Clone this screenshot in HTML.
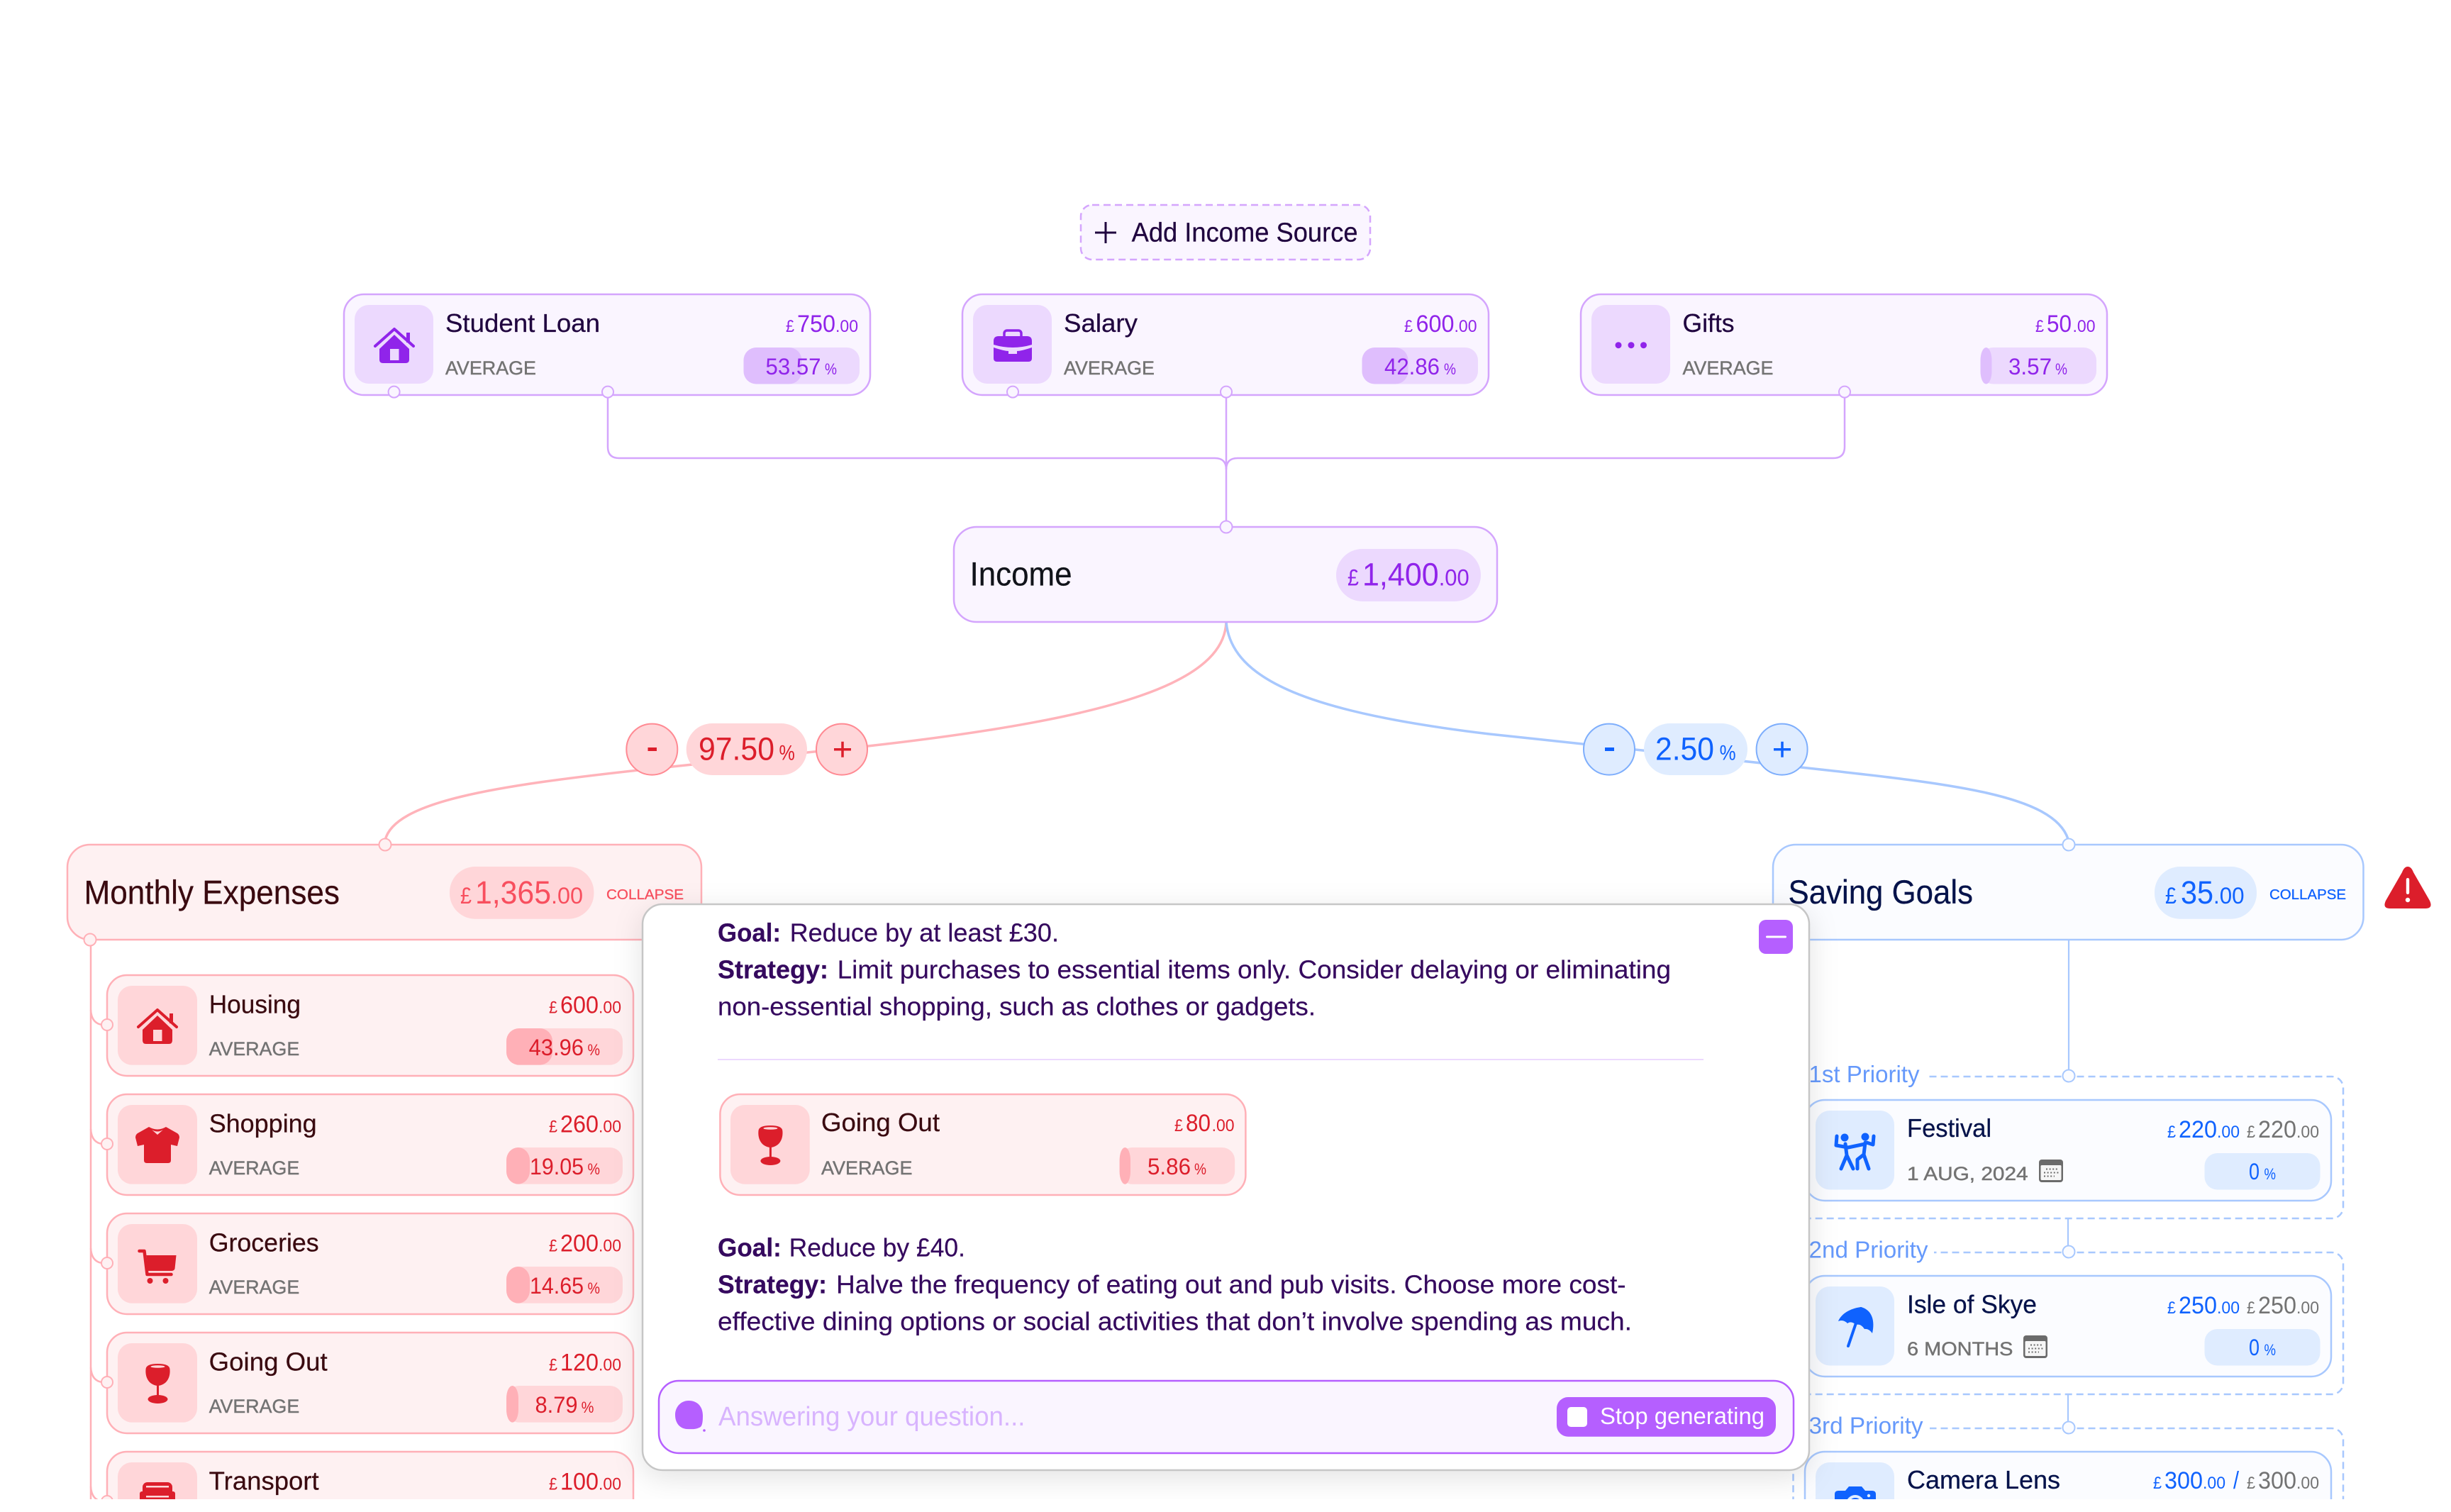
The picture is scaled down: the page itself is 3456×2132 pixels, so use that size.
<!DOCTYPE html>
<html><head><meta charset="utf-8"><title>Budget diagram</title>
<style>
html,body{margin:0;padding:0;background:#fff;width:3456px;height:2132px;overflow:hidden}
svg{display:block;font-family:"Liberation Sans",sans-serif}
.pu{--t:#20053f;--c:#9024ea;--bg:#faf5ff;--br:#d4a5fd;--ib:#ecd9fe;--f:#dfbefd}
.re{--t:#3a0a10;--c:#dc1e2b;--bg:#fef1f2;--br:#ffb0b7;--ib:#ffd6d9;--f:#ffb0b7}
.bl{--t:#04124a;--c:#0f62fe;--bg:#fbfcff;--br:#a8c8fe;--ib:#dfecff;--f:#a8c8fe}
.cb{fill:var(--bg);stroke:var(--br);stroke-width:2.5}
.ib{fill:var(--ib)}.f{fill:var(--f)}
.n{fill:var(--bg);stroke:var(--br);stroke-width:2}
.ic{fill:var(--c)}
.il{stroke:var(--c);fill:none;stroke-linecap:round;stroke-linejoin:round}
.hb{fill:var(--ib)}
.t{font-size:36px;fill:var(--t);stroke:var(--t);stroke-width:.25}
.d{font-size:34px;fill:var(--c)}
.s{font-size:24px;fill:var(--c)}
.p{font-size:32px;fill:var(--c)}
.q{font-size:22px;fill:var(--c)}
.m{font-size:27px;fill:#737373;stroke:#737373;stroke-width:.45}
.g{fill:#737373}
.big{font-size:47px;fill:var(--t);stroke:var(--t);stroke-width:.25}
.col{font-size:20px;stroke-width:.3}
.b1{font-size:36px;fill:#35095e;stroke:#35095e;stroke-width:.2}
.bb{font-weight:bold}
.pri{font-size:33px;fill:#6699fb}
.cbt{fill:var(--ib);stroke:var(--x);stroke-width:2}
.dash{fill:none;stroke:#a8c8fe;stroke-width:2.5;stroke-dasharray:10 6}
</style></head><body>
<svg width="3456" height="2132" viewBox="0 0 3456 2132" xmlns="http://www.w3.org/2000/svg">
<defs>
<filter id="sh" x="-10%" y="-15%" width="120%" height="130%"><feDropShadow dx="0" dy="10" stdDeviation="20" flood-color="#000" flood-opacity="0.11"/></filter>
<g id="house"><path class="il" stroke-width="4" d="M-27 1L0-23L27 1"/><path class="ic" d="M0-15L-21 5V20Q-21 25-16 25H16Q21 25 21 20V5Z"/><rect class="hb" x="-6" y="5" width="12.5" height="16"/><rect class="ic" x="17" y="-18" width="5" height="14"/></g>
<g id="bag"><rect class="il" stroke-width="3.5" x="-12" y="-21" width="24" height="12" rx="4"/><path class="ic" d="M-27-6Q-27-13-20-13H20Q27-13 27-6V-1Q0 7-27-1Z"/><path class="ic" d="M-27 3Q-12 8-6 8V12H6V8Q12 8 27 3V18Q27 23 22 23H-22Q-27 23-27 18Z"/></g>
<g id="shirt"><path class="ic" d="M-12-25Q0-18 12-25L28-16Q31-14 31-10L28 2L19 0V22Q19 26 15 26H-15Q-19 26-19 22V0L-28 2L-31-10Q-31-14-28-16Z"/><path class="hb" d="M-8-21Q0-16 8-21L0-14Z"/></g>
<g id="cart"><path class="il" stroke-width="4.5" d="M-25-21H-18L-14 12H20"/><path class="ic" d="M-15-15H27L25 4Q24 7 20 7H-13Z"/><circle class="ic" cx="-10" cy="21" r="4"/><circle class="ic" cx="12" cy="21" r="4"/></g>
<g id="wine"><path class="ic" d="M-17-20Q-17-28 0-28Q17-28 17-20C18-8 12 2 0 3C-12 2-18-8-17-20Z"/><rect class="ic" x="-1.5" y="2" width="3" height="18"/><ellipse class="ic" cx="0" cy="22" rx="14" ry="6"/><ellipse class="hb" cx="0" cy="-24" rx="10" ry="1.8"/></g>
<g id="dance"><circle class="ic" cx="-15" cy="-19" r="5.5"/><circle class="ic" cx="14" cy="-20" r="5.5"/><path class="il" stroke-width="5" d="M-26-21L-27-8L-10-5L14-10M-14-10L-12 6M-12 6L-20 25M-12 6L-3 25M14-12L12 5L3 12L3 25M12 5L19 25M16-12L25-9L26-21"/></g>
<g id="umb"><path class="ic" d="M8-28C-8-26-20-18-24-8Q-17-11-11-5Q-6-9 1-3Q8-5 13 3Q19 2 24 9C28-8 24-24 8-28Z"/><path class="il" stroke-width="4" d="M8-26L-10 27"/></g>
<g id="cal"><rect x="0" y="0" width="34" height="32" rx="4" fill="#6b6b6b"/><rect x="2.5" y="8" width="29" height="21" rx="1.5" fill="#f6f6f6"/><path d="M10 13.5H28M7 18.5H28M7 23.5H22" stroke="#6b6b6b" stroke-width="2" stroke-dasharray="2 2.6" fill="none"/></g>
</defs>
<rect width="3456" height="2132" fill="#fff"/>

<!-- Income connectors -->
<g fill="none" stroke="#d4a5fd" stroke-width="2.5">
<path d="M857 556V630Q857 646 873 646H1713Q1729 646 1729 662"/>
<path d="M2601 556V630Q2601 646 2585 646H1745Q1729 646 1729 662"/>
<path d="M1729 556V743"/>
</g>
<path d="M1729 877C1726 960 1581 1012 1224 1052L900 1086C700 1108 555 1130 543 1185" fill="none" stroke="#ffb3ba" stroke-width="3.5"/>
<path d="M1729 877C1736 960 1850 1005 2100 1035L2540 1082C2750 1105 2895 1120 2916 1183" fill="none" stroke="#a8c8fe" stroke-width="3.5"/>

<!-- Add income -->
<g class="pu">
<rect x="1524" y="289" width="408" height="77" rx="16" fill="#faf5ff" stroke="#d4a5fd" stroke-width="2.5" stroke-dasharray="10 6"/>
<path d="M1544 328H1574M1559 313V343" stroke="#20053f" stroke-width="3" fill="none"/>
<text x="1595.6" y="340.4" font-size="38" fill="#20053f" stroke="#20053f" stroke-width=".25" textLength="319" lengthAdjust="spacingAndGlyphs">Add Income Source</text>
</g>

<!-- Student Loan -->
<g class="pu" transform="translate(485,415)">
<rect class="cb" width="742" height="142" rx="28"/><rect class="ib" x="15" y="15" width="111" height="111" rx="20"/>
<use href="#house" transform="translate(71,72)"/>
<text class="t" x="143" y="53" textLength="218" lengthAdjust="spacingAndGlyphs">Student Loan</text>
<text class="s" x="623" y="53" textLength="12" lengthAdjust="spacingAndGlyphs">£</text><text class="d" x="639" y="53" textLength="54" lengthAdjust="spacingAndGlyphs">750</text><text class="s" x="693" y="53" textLength="32" lengthAdjust="spacingAndGlyphs">.00</text>
<rect class="ib" x="563.5" y="75" width="163.5" height="51.5" rx="18"/><rect class="f" x="563.5" y="75" width="82" height="51.5" rx="18" ry="18"/>
<text class="m" x="143" y="113" textLength="128" lengthAdjust="spacingAndGlyphs">AVERAGE</text>
<text class="p" x="594.5" y="113" textLength="78" lengthAdjust="spacingAndGlyphs">53.57</text><text class="q" x="678" y="113" textLength="17" lengthAdjust="spacingAndGlyphs">%</text>
<circle class="n" cx="70.6" cy="137.6" r="8"/><circle class="n" cx="372" cy="137.6" r="8"/>
</g>
<!-- Salary -->
<g class="pu" transform="translate(1357,415)">
<rect class="cb" width="742" height="142" rx="28"/><rect class="ib" x="15" y="15" width="111" height="111" rx="20"/>
<use href="#bag" transform="translate(71,72)"/>
<text class="t" x="143" y="53" textLength="104" lengthAdjust="spacingAndGlyphs">Salary</text>
<text class="s" x="623" y="53" textLength="12" lengthAdjust="spacingAndGlyphs">£</text><text class="d" x="639.5" y="53" textLength="54" lengthAdjust="spacingAndGlyphs">600</text><text class="s" x="693.5" y="53" textLength="32" lengthAdjust="spacingAndGlyphs">.00</text>
<rect class="ib" x="563.5" y="75" width="163.5" height="51.5" rx="18"/><rect class="f" x="563.5" y="75" width="65" height="51.5" rx="18" ry="18"/>
<text class="m" x="143" y="113" textLength="128" lengthAdjust="spacingAndGlyphs">AVERAGE</text>
<text class="p" x="595" y="113" textLength="78" lengthAdjust="spacingAndGlyphs">42.86</text><text class="q" x="679" y="113" textLength="17" lengthAdjust="spacingAndGlyphs">%</text>
<circle class="n" cx="71" cy="137.6" r="8"/><circle class="n" cx="372" cy="137.6" r="8"/>
</g>
<!-- Gifts -->
<g class="pu" transform="translate(2229,415)">
<rect class="cb" width="742" height="142" rx="28"/><rect class="ib" x="15" y="15" width="111" height="111" rx="20"/>
<circle class="ic" cx="53" cy="71.7" r="4.5"/><circle class="ic" cx="71" cy="71.7" r="4.5"/><circle class="ic" cx="88.5" cy="71.7" r="4.5"/>
<text class="t" x="143.5" y="53" textLength="73" lengthAdjust="spacingAndGlyphs">Gifts</text>
<text class="s" x="641" y="53" textLength="12" lengthAdjust="spacingAndGlyphs">£</text><text class="d" x="657" y="53" textLength="35" lengthAdjust="spacingAndGlyphs">50</text><text class="s" x="693.5" y="53" textLength="32" lengthAdjust="spacingAndGlyphs">.00</text>
<rect class="ib" x="563.5" y="75" width="163.5" height="51.5" rx="18"/><rect class="f" x="563.5" y="75" width="16" height="51.5" rx="18" ry="18"/>
<text class="m" x="143.5" y="113" textLength="128" lengthAdjust="spacingAndGlyphs">AVERAGE</text>
<text class="p" x="603" y="113" textLength="61" lengthAdjust="spacingAndGlyphs">3.57</text><text class="q" x="669" y="113" textLength="17" lengthAdjust="spacingAndGlyphs">%</text>
<circle class="n" cx="372" cy="137.6" r="8"/>
</g>

<!-- Income -->
<g class="pu">
<rect class="cb" x="1345" y="743" width="766" height="134" rx="32"/>
<circle class="n" cx="1729" cy="743" r="8.5"/>
<text x="1367.5" y="825.5" font-size="47" fill="#11131a" stroke="#11131a" stroke-width=".25" textLength="144" lengthAdjust="spacingAndGlyphs">Income</text>
<rect class="ib" x="1884" y="774" width="204" height="74" rx="37"/>
<text x="1900" y="825.5" font-size="32" fill="#9024ea" textLength="16" lengthAdjust="spacingAndGlyphs">£</text>
<text x="1921" y="825.5" font-size="45" fill="#9024ea" textLength="107.7" lengthAdjust="spacingAndGlyphs">1,400</text>
<text x="2028.7" y="825.5" font-size="32" fill="#9024ea" textLength="43" lengthAdjust="spacingAndGlyphs">.00</text>
</g>

<!-- Red controls -->
<g class="re" style="--x:#ff8a93">
<circle class="cbt" cx="919.3" cy="1056.6" r="36"/><rect x="913.5" y="1054" width="12.5" height="5" fill="#dc1e2b"/>
<rect x="967.7" y="1020" width="170.3" height="73" rx="36.5" fill="#ffd6d9"/>
<text x="985" y="1071.7" font-size="45" fill="#dc1e2b" textLength="107" lengthAdjust="spacingAndGlyphs">97.50</text>
<text x="1098.5" y="1071.7" font-size="30" fill="#dc1e2b" textLength="22.3" lengthAdjust="spacingAndGlyphs">%</text>
<circle class="cbt" cx="1187" cy="1056.6" r="36"/><path d="M1176 1056.7H1200M1188 1045.7V1067.7" stroke="#dc1e2b" stroke-width="3.5" fill="none"/>
</g>
<!-- Blue controls -->
<g class="bl" style="--x:#7eaefc">
<circle class="cbt" cx="2269" cy="1056.6" r="36"/><rect x="2263" y="1054" width="13" height="5" fill="#0f62fe"/>
<rect x="2318" y="1020" width="146" height="73" rx="36.5" fill="#dfecff"/>
<text x="2334" y="1071.7" font-size="45" fill="#0f62fe" textLength="83" lengthAdjust="spacingAndGlyphs">2.50</text>
<text x="2424.6" y="1071.7" font-size="30" fill="#0f62fe" textLength="23" lengthAdjust="spacingAndGlyphs">%</text>
<circle class="cbt" cx="2512.6" cy="1056.6" r="36"/><path d="M2501 1056.7H2525M2513 1045.7V1067.7" stroke="#0f62fe" stroke-width="3.5" fill="none"/>
</g>

<!-- Monthly Expenses -->
<g class="re">
<path d="M128 1325V2114" stroke="#ffb0b7" stroke-width="2.5" fill="none"/>
<path d="M128 1424Q129 1443 144 1445M128 1592Q129 1611 144 1613M128 1760Q129 1779 144 1781M128 1928Q129 1947 144 1949M128 2096Q129 2115 144 2117" stroke="#ffb0b7" stroke-width="2.5" fill="none"/>
<rect class="cb" x="95" y="1191" width="894" height="134" rx="32"/>
<circle class="n" cx="543" cy="1191" r="8.5"/><circle class="n" cx="127" cy="1325" r="8.5"/>
<text class="big" x="118.5" y="1274.5" textLength="360.5" lengthAdjust="spacingAndGlyphs">Monthly Expenses</text>
<rect class="ib" x="634" y="1222" width="203.4" height="73.7" rx="36"/>
<text x="649" y="1274" font-size="32" fill="#f84f5e" textLength="16" lengthAdjust="spacingAndGlyphs">£</text>
<text x="670" y="1274" font-size="45" fill="#f84f5e" textLength="107" lengthAdjust="spacingAndGlyphs">1,365</text>
<text x="777" y="1274" font-size="32" fill="#f84f5e" textLength="45" lengthAdjust="spacingAndGlyphs">.00</text>
<text class="col" x="855" y="1268" fill="#f84f5e" stroke="#f84f5e" textLength="109" lengthAdjust="spacingAndGlyphs">COLLAPSE</text>
</g>

<g class="re" transform="translate(151,1375)">
<rect class="cb" width="742" height="142" rx="28"/><rect class="ib" x="15" y="15" width="112" height="111.6" rx="20"/>
<use href="#house" transform="translate(71,72)"/>
<text class="t" x="143.7" y="53.5" textLength="129.3" lengthAdjust="spacingAndGlyphs">Housing</text>
<text class="s" x="623" y="53.5" textLength="12" lengthAdjust="spacingAndGlyphs">£</text><text class="d" x="639" y="53.5" textLength="54" lengthAdjust="spacingAndGlyphs">600</text><text class="s" x="693" y="53.5" textLength="32" lengthAdjust="spacingAndGlyphs">.00</text>
<rect class="ib" x="563" y="75" width="164" height="51.6" rx="18"/><rect class="f" x="563" y="75" width="65" height="51.6" rx="18" ry="18"/>
<text class="m" x="143.7" y="113" textLength="127.5" lengthAdjust="spacingAndGlyphs">AVERAGE</text>
<text class="p" x="594.6" y="113" textLength="77.4" lengthAdjust="spacingAndGlyphs">43.96</text><text class="q" x="677.5" y="113" textLength="17.5" lengthAdjust="spacingAndGlyphs">%</text>
<circle class="n" cx="0" cy="70" r="8"/>
</g>
<g class="re" transform="translate(151,1543)">
<rect class="cb" width="742" height="142" rx="28"/><rect class="ib" x="15" y="15" width="112" height="111.6" rx="20"/>
<use href="#shirt" transform="translate(71,71)"/>
<text class="t" x="143.7" y="53.5" textLength="152" lengthAdjust="spacingAndGlyphs">Shopping</text>
<text class="s" x="623" y="53.5" textLength="12" lengthAdjust="spacingAndGlyphs">£</text><text class="d" x="639" y="53.5" textLength="54" lengthAdjust="spacingAndGlyphs">260</text><text class="s" x="693" y="53.5" textLength="32" lengthAdjust="spacingAndGlyphs">.00</text>
<rect class="ib" x="563" y="75" width="164" height="51.6" rx="18"/><rect class="f" x="563" y="75" width="33" height="51.6" rx="18" ry="18"/>
<text class="m" x="143.7" y="113" textLength="127.5" lengthAdjust="spacingAndGlyphs">AVERAGE</text>
<text class="p" x="596" y="113" textLength="76" lengthAdjust="spacingAndGlyphs">19.05</text><text class="q" x="677.5" y="113" textLength="17.5" lengthAdjust="spacingAndGlyphs">%</text>
<circle class="n" cx="0" cy="70" r="8"/>
</g>
<g class="re" transform="translate(151,1711)">
<rect class="cb" width="742" height="142" rx="28"/><rect class="ib" x="15" y="15" width="112" height="111.6" rx="20"/>
<use href="#cart" transform="translate(70.5,74)"/>
<text class="t" x="143.7" y="53.5" textLength="155" lengthAdjust="spacingAndGlyphs">Groceries</text>
<text class="s" x="623" y="53.5" textLength="12" lengthAdjust="spacingAndGlyphs">£</text><text class="d" x="639" y="53.5" textLength="54" lengthAdjust="spacingAndGlyphs">200</text><text class="s" x="693" y="53.5" textLength="32" lengthAdjust="spacingAndGlyphs">.00</text>
<rect class="ib" x="563" y="75" width="164" height="51.6" rx="18"/><rect class="f" x="563" y="75" width="33" height="51.6" rx="18" ry="18"/>
<text class="m" x="143.7" y="113" textLength="127.5" lengthAdjust="spacingAndGlyphs">AVERAGE</text>
<text class="p" x="596" y="113" textLength="76" lengthAdjust="spacingAndGlyphs">14.65</text><text class="q" x="677.5" y="113" textLength="17.5" lengthAdjust="spacingAndGlyphs">%</text>
<circle class="n" cx="0" cy="70" r="8"/>
</g>
<g class="re" transform="translate(151,1879)">
<rect class="cb" width="742" height="142" rx="28"/><rect class="ib" x="15" y="15" width="112" height="111.6" rx="20"/>
<use href="#wine" transform="translate(71.5,72)"/>
<text class="t" x="143.7" y="53.5" textLength="167" lengthAdjust="spacingAndGlyphs">Going Out</text>
<text class="s" x="623" y="53.5" textLength="12" lengthAdjust="spacingAndGlyphs">£</text><text class="d" x="639" y="53.5" textLength="54" lengthAdjust="spacingAndGlyphs">120</text><text class="s" x="693" y="53.5" textLength="32" lengthAdjust="spacingAndGlyphs">.00</text>
<rect class="ib" x="563" y="75" width="164" height="51.6" rx="18"/><rect class="f" x="563" y="75" width="17" height="51.6" rx="18" ry="18"/>
<text class="m" x="143.7" y="113" textLength="127.5" lengthAdjust="spacingAndGlyphs">AVERAGE</text>
<text class="p" x="603.5" y="113" textLength="60" lengthAdjust="spacingAndGlyphs">8.79</text><text class="q" x="668.6" y="113" textLength="17.8" lengthAdjust="spacingAndGlyphs">%</text>
<circle class="n" cx="0" cy="70" r="8"/>
</g>
<g class="re" transform="translate(151,2047)">
<rect class="cb" width="742" height="142" rx="28"/><rect class="ib" x="15" y="15" width="112" height="111.6" rx="20"/>
<rect x="50" y="43" width="42" height="50" rx="7" fill="#dc1e2b"/><rect x="46" y="56" width="50" height="30" rx="3" fill="#dc1e2b"/><rect x="55" y="48" width="32" height="2.5" fill="#ffd6d9"/><rect x="55" y="62" width="32" height="2.5" fill="#ffd6d9"/>
<text class="t" x="143.7" y="53.5" textLength="155" lengthAdjust="spacingAndGlyphs">Transport</text>
<text class="s" x="623" y="53.5" textLength="12" lengthAdjust="spacingAndGlyphs">£</text><text class="d" x="639" y="53.5" textLength="54" lengthAdjust="spacingAndGlyphs">100</text><text class="s" x="693" y="53.5" textLength="32" lengthAdjust="spacingAndGlyphs">.00</text>
<circle class="n" cx="0" cy="70" r="8"/>
</g>

<!-- Saving Goals -->
<g class="bl">
<g fill="none" stroke="#a8c8fe" stroke-width="2.2"><path d="M2917 1325V1517"/><path d="M2916 1718V1766"/><path d="M2916 1966V2013"/></g>
<rect class="cb" x="2500" y="1191" width="832.5" height="134" rx="32"/>
<circle class="n" cx="2917" cy="1191" r="8.5"/>
<text class="big" x="2521.5" y="1274" textLength="260.5" lengthAdjust="spacingAndGlyphs">Saving Goals</text>
<rect class="ib" x="3038" y="1222" width="144" height="73.7" rx="36"/>
<text x="3053" y="1274" font-size="32" fill="#0f62fe" textLength="16" lengthAdjust="spacingAndGlyphs">£</text>
<text x="3075" y="1274" font-size="45" fill="#0f62fe" textLength="46" lengthAdjust="spacingAndGlyphs">35</text>
<text x="3121" y="1274" font-size="32" fill="#0f62fe" textLength="43.5" lengthAdjust="spacingAndGlyphs">.00</text>
<text class="col" x="3200" y="1268" fill="#0f62fe" stroke="#0f62fe" textLength="108" lengthAdjust="spacingAndGlyphs">COLLAPSE</text>

<path d="M3395 1222Q3400 1222 3403 1230L3426 1270Q3431 1281 3420 1281H3370Q3359 1281 3364 1270L3387 1230Q3390 1222 3395 1222Z" fill="#dc1e2b"/>
<rect x="3392.8" y="1238" width="4.4" height="23" rx="2.2" fill="#fff"/><circle cx="3395" cy="1269" r="3.2" fill="#fff"/>

<rect class="dash" x="2528.5" y="1518" width="775.5" height="200" rx="16"/>
<rect x="2520" y="1500" width="197" height="36" fill="#fff"/>
<text class="pri" x="2550.5" y="1526" textLength="156" lengthAdjust="spacingAndGlyphs">1st Priority</text>
<circle class="n" cx="2917" cy="1517" r="8.5"/>

<rect class="dash" x="2528.5" y="1766" width="775.5" height="200" rx="16"/>
<rect x="2520" y="1748" width="207" height="36" fill="#fff"/>
<text class="pri" x="2550.5" y="1773.5" textLength="168" lengthAdjust="spacingAndGlyphs">2nd Priority</text>
<circle class="n" cx="2917" cy="1765" r="8.5"/>

<rect class="dash" x="2528.5" y="2014" width="775.5" height="200" rx="16"/>
<rect x="2520" y="1996" width="201" height="36" fill="#fff"/>
<text class="pri" x="2550.5" y="2021.5" textLength="161" lengthAdjust="spacingAndGlyphs">3rd Priority</text>
<circle class="n" cx="2917" cy="2013" r="8.5"/>
</g>

<g class="bl" transform="translate(2545,1551)">
<rect class="cb" width="742" height="142" rx="28"/><rect class="ib" x="15" y="15" width="111" height="111.5" rx="20"/>
<use href="#dance" transform="translate(71,72)"/>
<text class="t" x="144" y="52" textLength="119" lengthAdjust="spacingAndGlyphs">Festival</text>
<text class="s" x="511" y="53" textLength="12" lengthAdjust="spacingAndGlyphs">£</text><text class="d" x="527" y="53" textLength="54" lengthAdjust="spacingAndGlyphs">220</text><text class="s" x="581" y="53" textLength="32" lengthAdjust="spacingAndGlyphs">.00</text>
<text class="s g" x="623" y="53" textLength="12" lengthAdjust="spacingAndGlyphs">£</text><text class="d g" x="639" y="53" textLength="54" lengthAdjust="spacingAndGlyphs">220</text><text class="s g" x="693" y="53" textLength="32" lengthAdjust="spacingAndGlyphs">.00</text>
<rect class="ib" x="563.5" y="75" width="163" height="51.5" rx="18"/>
<text class="m" x="144" y="113" textLength="170.6" lengthAdjust="spacingAndGlyphs">1 AUG, 2024</text>
<use href="#cal" transform="translate(330,84)"/>
<text class="p" x="626" y="112" textLength="15" lengthAdjust="spacingAndGlyphs">0</text><text class="q" x="647.5" y="112" textLength="16.5" lengthAdjust="spacingAndGlyphs">%</text>
</g>
<g class="bl" transform="translate(2545,1799)">
<rect class="cb" width="742" height="142" rx="28"/><rect class="ib" x="15" y="15" width="111" height="111.5" rx="20"/>
<use href="#umb" transform="translate(71,72)"/>
<text class="t" x="144" y="52.7" textLength="183" lengthAdjust="spacingAndGlyphs">Isle of Skye</text>
<text class="s" x="511" y="53" textLength="12" lengthAdjust="spacingAndGlyphs">£</text><text class="d" x="527" y="53" textLength="54" lengthAdjust="spacingAndGlyphs">250</text><text class="s" x="581" y="53" textLength="32" lengthAdjust="spacingAndGlyphs">.00</text>
<text class="s g" x="623" y="53" textLength="12" lengthAdjust="spacingAndGlyphs">£</text><text class="d g" x="639" y="53" textLength="54" lengthAdjust="spacingAndGlyphs">250</text><text class="s g" x="693" y="53" textLength="32" lengthAdjust="spacingAndGlyphs">.00</text>
<rect class="ib" x="563.5" y="75" width="163" height="51.5" rx="18"/>
<text class="m" x="144" y="112" textLength="149.4" lengthAdjust="spacingAndGlyphs">6 MONTHS</text>
<use href="#cal" transform="translate(308,84)"/>
<text class="p" x="626" y="112" textLength="15" lengthAdjust="spacingAndGlyphs">0</text><text class="q" x="647.5" y="112" textLength="16.5" lengthAdjust="spacingAndGlyphs">%</text>
</g>
<g class="bl" transform="translate(2545,2047)">
<rect class="cb" width="742" height="142" rx="28"/><rect class="ib" x="15" y="15" width="111" height="111.5" rx="20"/>
<path class="ic" d="M42 60Q42 55 47 55H57L62 49H80L85 55H95Q100 55 100 60V90H42Z"/><circle cx="71" cy="74" r="11" fill="none" stroke="#dfecff" stroke-width="4"/><circle cx="90" cy="62" r="2.2" fill="#dfecff"/>
<text class="t" x="144" y="52" textLength="216" lengthAdjust="spacingAndGlyphs">Camera Lens</text>
<text class="s" x="491" y="52" textLength="12" lengthAdjust="spacingAndGlyphs">£</text><text class="d" x="507" y="52" textLength="54" lengthAdjust="spacingAndGlyphs">300</text><text class="s" x="561" y="52" textLength="32" lengthAdjust="spacingAndGlyphs">.00</text>
<text class="d" x="604" y="52" textLength="8" lengthAdjust="spacingAndGlyphs">/</text>
<text class="s g" x="623" y="52" textLength="12" lengthAdjust="spacingAndGlyphs">£</text><text class="d g" x="639" y="52" textLength="54" lengthAdjust="spacingAndGlyphs">300</text><text class="s g" x="693" y="52" textLength="32" lengthAdjust="spacingAndGlyphs">.00</text>
</g>

<!-- Panel -->
<rect x="906" y="1275" width="1645" height="798" rx="28" fill="#fff" stroke="#c6c6c6" stroke-width="2.5" filter="url(#sh)"/>
<rect x="2480" y="1297" width="48" height="48" rx="10" fill="#b55fff"/><rect x="2490" y="1319.5" width="29" height="3" rx="1.5" fill="#fff"/>

<text class="b1 bb" x="1012" y="1327.7" textLength="89" lengthAdjust="spacingAndGlyphs">Goal:</text>
<text class="b1" x="1113.6" y="1327.7" textLength="379.4" lengthAdjust="spacingAndGlyphs">Reduce by at least £30.</text>
<text class="b1 bb" x="1012" y="1379.3" textLength="156" lengthAdjust="spacingAndGlyphs">Strategy:</text>
<text class="b1" x="1180.6" y="1379.3" textLength="1175.4" lengthAdjust="spacingAndGlyphs">Limit purchases to essential items only. Consider delaying or eliminating</text>
<text class="b1" x="1012" y="1431.7" textLength="843" lengthAdjust="spacingAndGlyphs">non-essential shopping, such as clothes or gadgets.</text>
<rect x="1012" y="1493" width="1390" height="2" fill="#ecd9fe"/>

<g class="re" transform="translate(1015.4,1543)">
<rect class="cb" width="741" height="142" rx="28"/><rect class="ib" x="14.6" y="15" width="111.7" height="111.7" rx="20"/>
<use href="#wine" transform="translate(71,72)"/>
<text class="t" x="142.6" y="52" textLength="167" lengthAdjust="spacingAndGlyphs">Going Out</text>
<text class="s" x="640.6" y="52" textLength="12" lengthAdjust="spacingAndGlyphs">£</text><text class="d" x="656.6" y="52" textLength="35" lengthAdjust="spacingAndGlyphs">80</text><text class="s" x="693.2" y="52" textLength="32" lengthAdjust="spacingAndGlyphs">.00</text>
<rect class="ib" x="563.2" y="75" width="162.6" height="51.7" rx="18"/><rect class="f" x="563.2" y="75" width="15.4" height="51.7" rx="18" ry="18"/>
<text class="m" x="142.6" y="113" textLength="128.5" lengthAdjust="spacingAndGlyphs">AVERAGE</text>
<text class="p" x="602.6" y="113" textLength="61" lengthAdjust="spacingAndGlyphs">5.86</text><text class="q" x="668.6" y="113" textLength="17" lengthAdjust="spacingAndGlyphs">%</text>
</g>

<text class="b1 bb" x="1012" y="1771.7" textLength="89.8" lengthAdjust="spacingAndGlyphs">Goal:</text>
<text class="b1" x="1112.6" y="1771.7" textLength="248.4" lengthAdjust="spacingAndGlyphs">Reduce by £40.</text>
<text class="b1 bb" x="1012" y="1823.5" textLength="154" lengthAdjust="spacingAndGlyphs">Strategy:</text>
<text class="b1" x="1179" y="1823.5" textLength="1113.6" lengthAdjust="spacingAndGlyphs">Halve the frequency of eating out and pub visits. Choose more cost-</text>
<text class="b1" x="1012" y="1875.5" textLength="1289" lengthAdjust="spacingAndGlyphs">effective dining options or social activities that don’t involve spending as much.</text>

<rect x="929" y="1947" width="1600" height="102" rx="28" fill="#faf5ff" stroke="#b55fff" stroke-width="2.5"/>
<path d="M971 1975C984 1975 991 1984 991 1996C991 2006 990 2012 986 2013C980 2016 974 2015 968 2015C958 2014 952 2006 952 1995C952 1984 960 1975 971 1975Z" fill="#b55fff"/><circle cx="993" cy="2017" r="1.8" fill="#b55fff"/>
<text x="1013" y="2010" font-size="38" fill="#d8b4fe" textLength="432.5" lengthAdjust="spacingAndGlyphs">Answering your question...</text>
<rect x="2195" y="1970" width="309" height="55.7" rx="16" fill="#b55fff"/>
<rect x="2210" y="1984" width="28" height="28" rx="5" fill="#fff"/>
<text x="2256" y="2008" font-size="33" fill="#fff" textLength="232" lengthAdjust="spacingAndGlyphs">Stop generating</text>

<rect x="0" y="2114" width="3456" height="18" fill="#fff"/>
</svg>
</body></html>
